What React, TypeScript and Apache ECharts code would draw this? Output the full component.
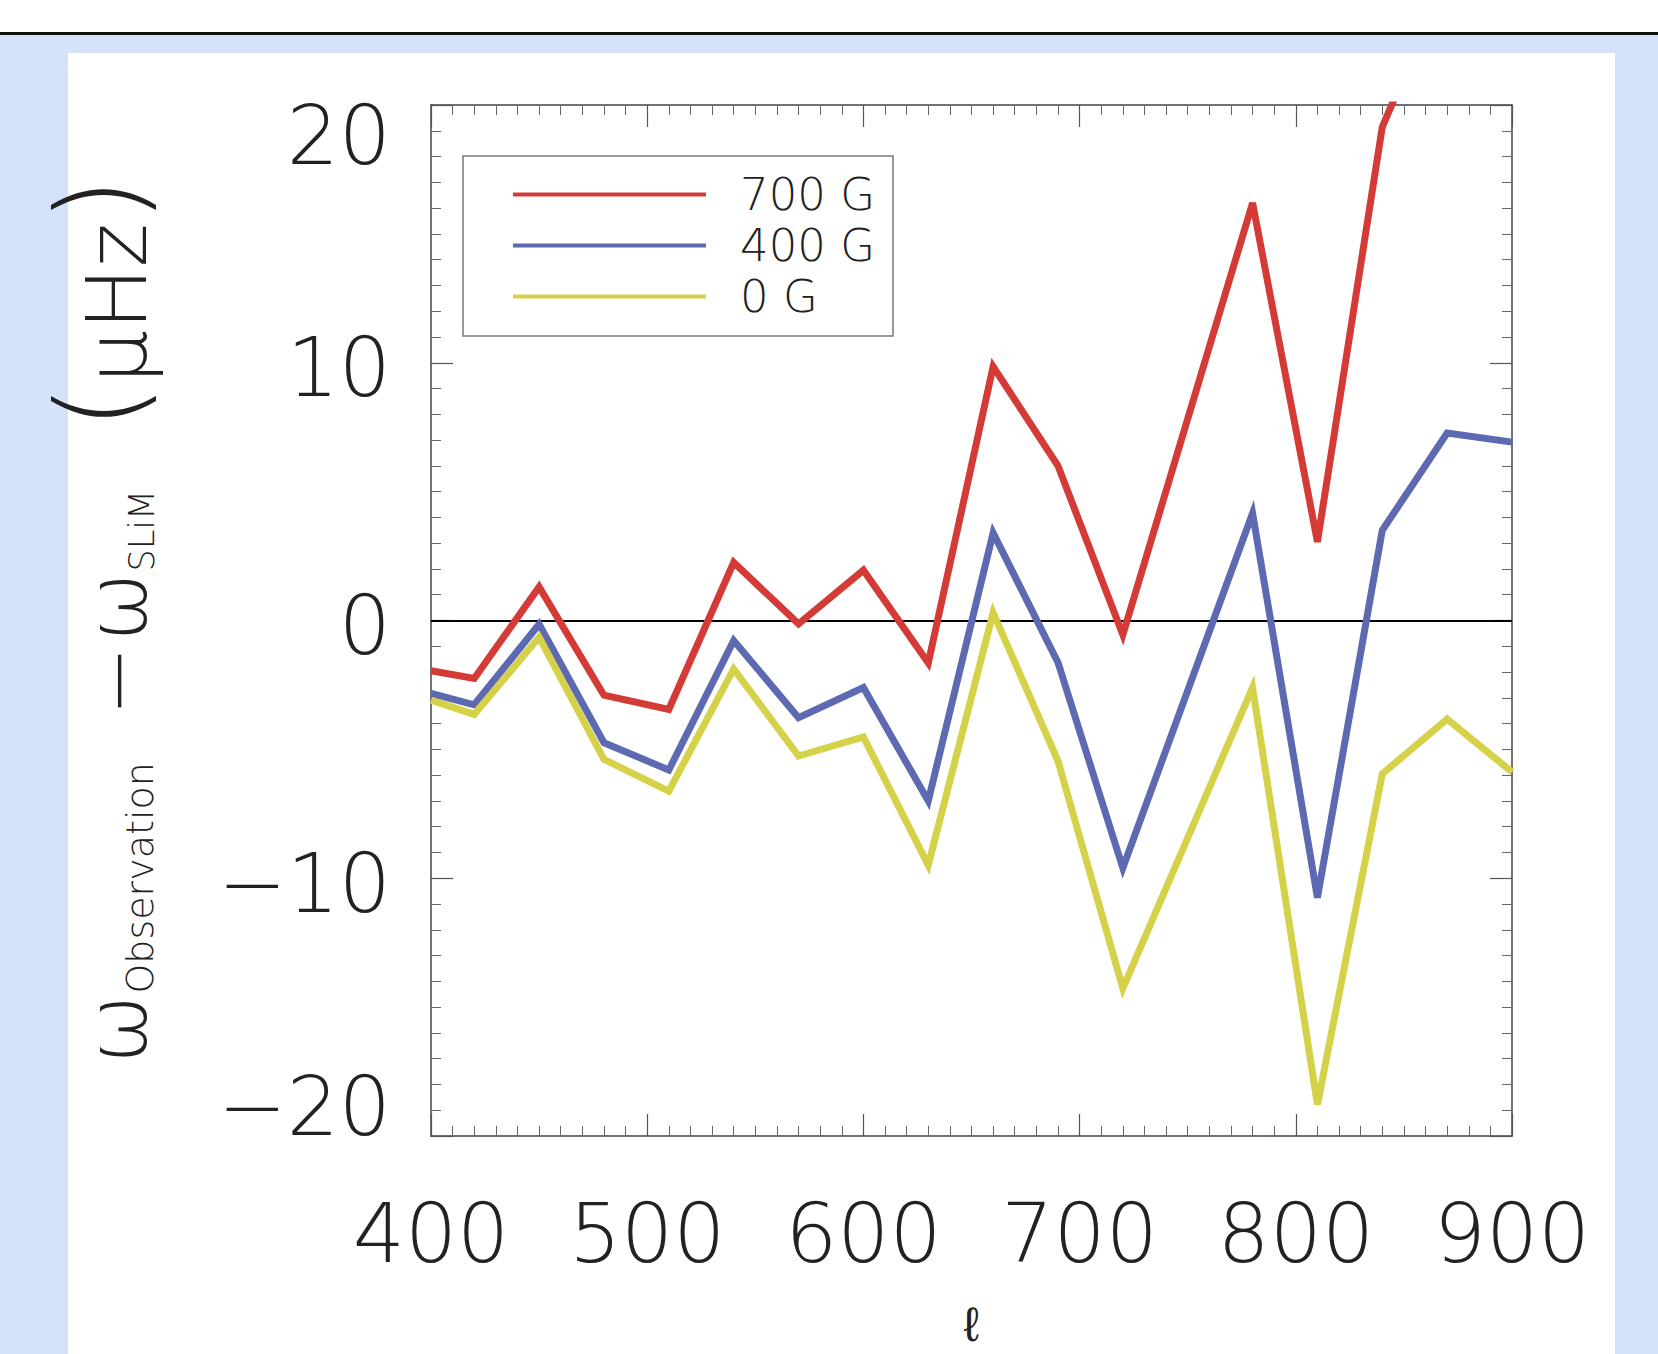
import React, { useEffect, useRef } from 'react';
import * as echarts from 'echarts';

// ---- data ----
const ellValues = [400, 420, 450, 480, 510, 540, 570, 600, 630, 660, 690, 720, 780, 810, 840, 870, 900];
const field700 = [-1.95, -2.25, 1.3, -2.9, -3.45, 2.25, -0.13, 1.95, -1.65, 9.85, 6.0, -0.55, 16.2, 3.05, 19.15, 25, 26];
const field400 = [-2.83, -3.27, -0.15, -4.74, -5.8, -0.78, -3.77, -2.6, -7.0, 3.4, -1.63, -9.6, 4.16, -10.75, 3.5, 7.27, 6.92];
const field0 = [-3.09, -3.64, -0.65, -5.39, -6.62, -1.88, -5.26, -4.52, -9.49, 0.3, -5.45, -14.27, -2.6, -18.78, -5.95, -3.82, -5.88];
const seriesNames = ['700 G', '400 G', '0 G'];
const seriesColors = ['#d43b37', '#5d69b1', '#d5d149'];
const xTickLabels = [400, 500, 600, 700, 800, 900];
const yTickLabels = [-20, -10, 0, 10, 20];

const FONT = "'DejaVu Sans', 'Liberation Sans', sans-serif";
const TEXT = '#222';

function App() {
  const ref = useRef<HTMLDivElement>(null);

  useEffect(() => {
    if (!ref.current) return;
    const chart = echarts.init(ref.current, undefined, { renderer: 'svg' });
    const all = [field700, field400, field0];
    const lbl = { fontFamily: FONT, fontWeight: 200, color: TEXT, fontSize: 82, lineHeight: 62 };
    const nb = { fontFamily: FONT, fontWeight: 200, color: TEXT, verticalAlign: 'bottom' };
    const tickCommon = {
      axisLine: { show: true, onZero: false, lineStyle: { color: '#444', width: 1.5 } },
      axisTick: { show: true, inside: true, length: 22, lineStyle: { color: '#555', width: 1.2 } },
      minorTick: { show: true, splitNumber: 10, length: 10, lineStyle: { color: '#666', width: 1 } },
      splitLine: { show: false },
      minorSplitLine: { show: false },
    };
    const xMin = xTickLabels[0];
    const xMax = xTickLabels[xTickLabels.length - 1];
    const yMin = yTickLabels[0];
    const yMax = yTickLabels[yTickLabels.length - 1];
    const fmtY = (v: number) => {
      const s = (v < 0 ? '\u2212' : '') + Math.abs(v);
      if (v === yMax) return `{hi|${s}}`;
      if (v === yMin) return `{lo|${s}}`;
      return `{n|${s}}`;
    };

    chart.setOption({
      animation: false,
      backgroundColor: 'transparent',
      grid: { left: 431, right: 146, top: 105, bottom: 218, containLabel: false, outerBoundsMode: 'none' },
      legend: {
        show: true,
        orient: 'vertical',
        left: 513,
        top: 172,
        padding: 0,
        itemGap: 6,
        itemWidth: 193,
        itemHeight: 4,
        icon: 'rect',
        itemStyle: { borderWidth: 0 },
        data: seriesNames,
        formatter: (name: string) => `{a|${name}}`,
        textStyle: {
          rich: {
            a: { fontFamily: FONT, fontWeight: 200, color: TEXT, fontSize: 45, lineHeight: 45, padding: [0, 0, 0, 29] },
          },
        },
      },
      graphic: [
        {
          type: 'rect',
          shape: { x: 463, y: 156, width: 430, height: 180 },
          style: { fill: 'none', stroke: '#777', lineWidth: 1.5 },
          silent: true,
          z: 1,
        },
      ],
      xAxis: [
        {
          type: 'value',
          position: 'bottom',
          min: xMin,
          max: xMax,
          interval: 100,
          ...tickCommon,
          axisLabel: { margin: 56, fontSize: 82, fontFamily: FONT, fontWeight: 200, color: TEXT },
          name: '\u2113',
          nameLocation: 'middle',
          nameGap: 166,
          nameTextStyle: { fontSize: 48, lineHeight: 44, fontFamily: FONT, fontWeight: 200, color: TEXT },
        },
        {
          type: 'value',
          position: 'top',
          min: xMin,
          max: xMax,
          interval: 100,
          ...tickCommon,
          axisLabel: { show: false },
        },
      ],
      yAxis: [
        {
          type: 'value',
          position: 'left',
          min: yMin,
          max: yMax,
          interval: 10,
          ...tickCommon,
          axisLabel: {
            margin: 40,
            formatter: fmtY,
            rich: {
              hi: { ...lbl, padding: [60, 0, 0, 0] },
              lo: { ...lbl, padding: [0, 0, 60, 0] },
              n: { ...lbl, padding: [10, 0, 0, 0] },
            },
          },
          name: '{w|\u03c9}{sub|Observation}{mi|\u2212}{w2|\u03c9}{sub2|SLiM}{p|(}{u|\u03bcHz}{p|)}',
          nameLocation: 'middle',
          nameRotate: 90,
          nameGap: 272,
          nameTextStyle: {
            rich: {
              w: { ...nb, fontSize: 84, lineHeight: 84 },
              w2: { ...nb, fontSize: 84, lineHeight: 84, padding: [0, 0, 0, 4] },
              sub: { ...nb, fontSize: 38, lineHeight: 40 },
              mi: { ...nb, fontSize: 84, lineHeight: 84, padding: [0, 0, 0, 46] },
              sub2: { ...nb, fontSize: 35, lineHeight: 38, padding: [0, 60, 0, 0] },
              p: { ...nb, fontSize: 118, lineHeight: 92 },
              u: { ...nb, fontSize: 84, lineHeight: 84 },
            },
          },
        },
        {
          type: 'value',
          position: 'right',
          min: yMin,
          max: yMax,
          interval: 10,
          ...tickCommon,
          axisLabel: { show: false },
        },
      ],
      series: seriesNames.map((name, k) => ({
        name,
        type: 'line',
        xAxisIndex: 0,
        yAxisIndex: 0,
        data: ellValues.map((x, i) => [x, all[k][i]]),
        showSymbol: false,
        symbol: 'none',
        clip: true,
        color: seriesColors[k],
        lineStyle: { color: seriesColors[k], width: 7, join: 'miter' },
        itemStyle: { color: seriesColors[k] },
        z: 3,
        emphasis: { disabled: true },
        ...(k === 0
          ? {
              markLine: {
                silent: true,
                symbol: ['none', 'none'],
                label: { show: false },
                lineStyle: { color: '#000', width: 2, type: 'solid' },
                data: [{ yAxis: 0 }],
                z: 2,
              },
            }
          : {}),
      })),
    });
    return () => chart.dispose();
  }, []);

  return (
    <div style={{ position: 'absolute', left: 0, top: 0, width: 1658, height: 1354, background: '#fff', overflow: 'hidden' }}>
      <div style={{ position: 'absolute', left: 0, top: 32, width: 1658, height: 3, background: '#111' }} />
      <div style={{ position: 'absolute', left: 0, top: 35, width: 1658, height: 1319, background: '#d5e3fa' }} />
      <div style={{ position: 'absolute', left: 68, top: 53, width: 1547, height: 1301, background: '#fff' }} />
      <div ref={ref} style={{ position: 'absolute', left: 0, top: 0, width: 1658, height: 1354 }} />
    </div>
  );
}

export default App;
